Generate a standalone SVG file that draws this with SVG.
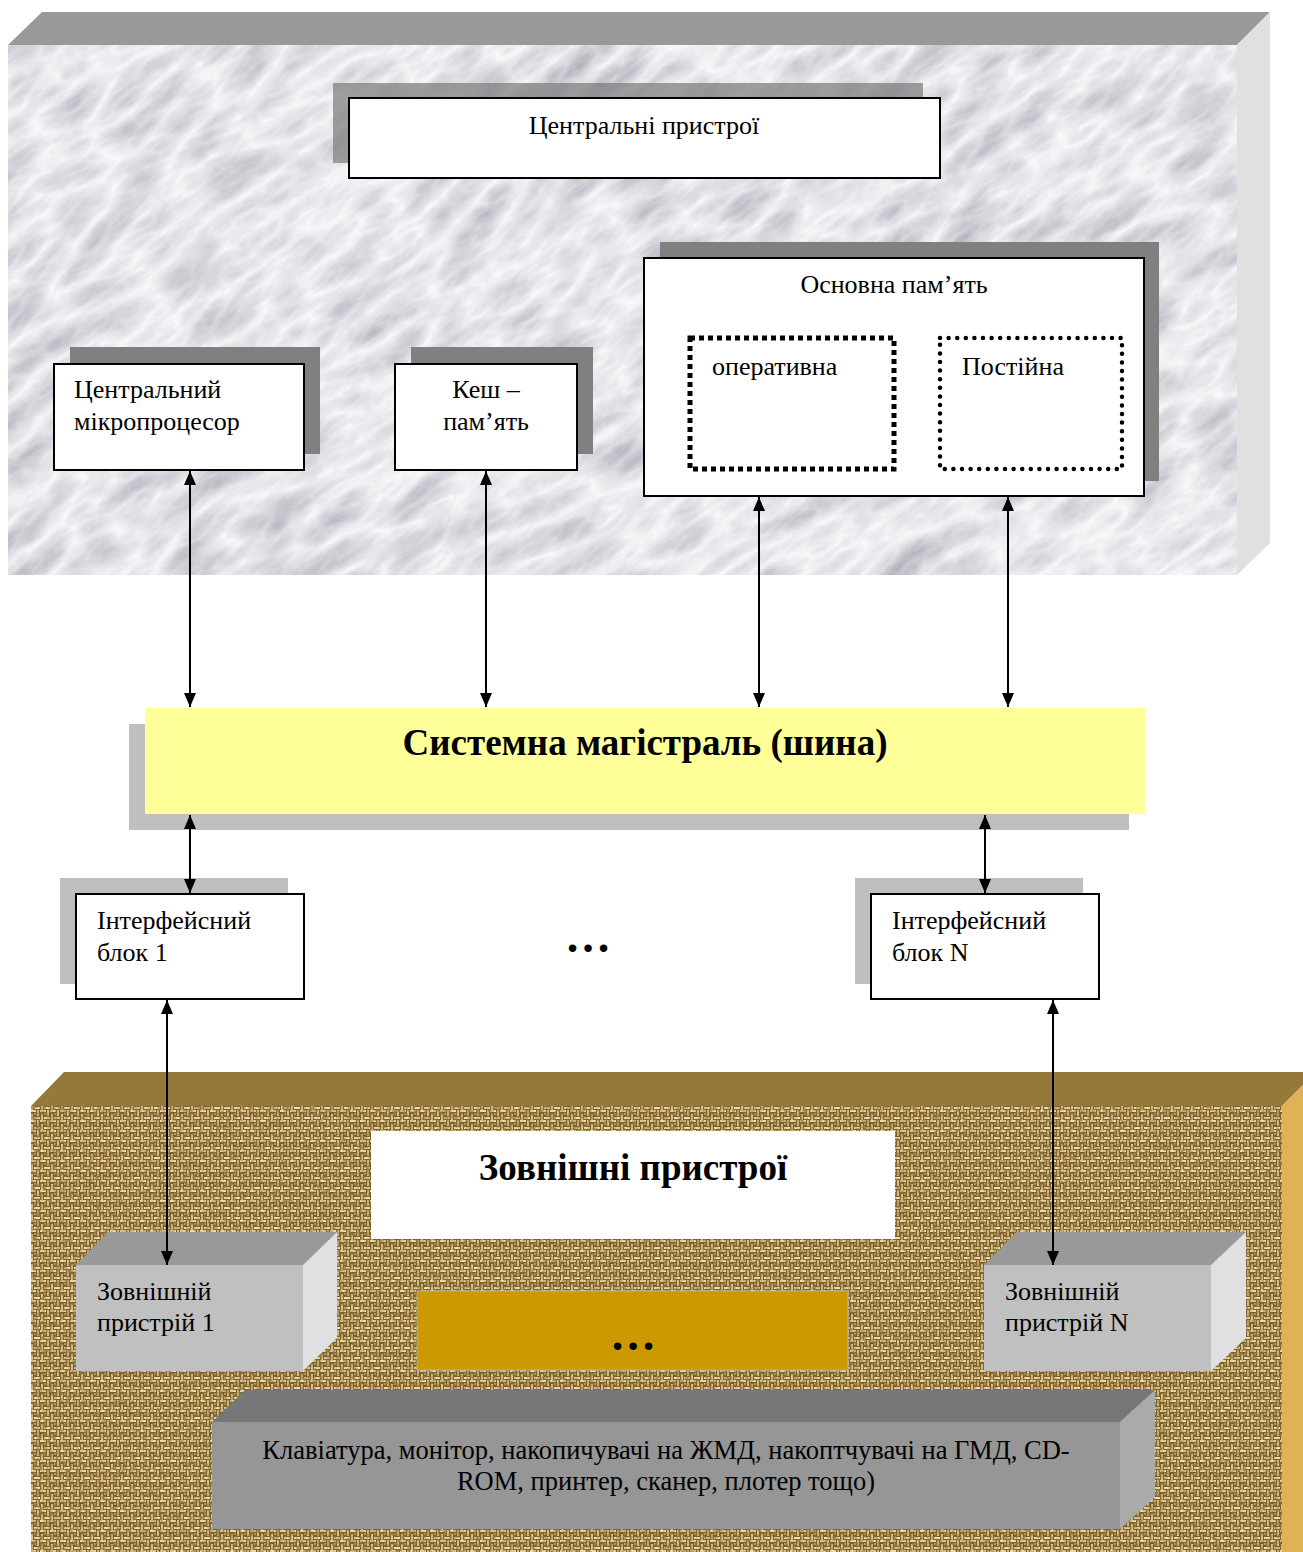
<svg xmlns="http://www.w3.org/2000/svg" width="1303" height="1552" viewBox="0 0 1303 1552">
<style>
text{font-family:"Liberation Serif","Times New Roman",serif;fill:#000}
.t{font-size:26px}
.b{font-size:37px;font-weight:bold}
.d{font-size:46px;font-weight:bold}
.box{fill:#fff;stroke:#000;stroke-width:2}
.sh1{fill:#808080}
.sh2{fill:#bfbfbf}
.conn line{stroke:#000;stroke-width:2;marker-start:url(#ah);marker-end:url(#ah)}
</style>
<defs>
<marker id="ah" viewBox="0 0 14 12" refX="14" refY="6" markerWidth="14" markerHeight="12" markerUnits="userSpaceOnUse" orient="auto-start-reverse">
<path d="M0,0 L14,6 L0,12 Z" fill="#000"/>
</marker>
<filter id="marble" x="0" y="0" width="1" height="1" filterUnits="objectBoundingBox">
<feTurbulence type="turbulence" baseFrequency="0.012 0.03" numOctaves="5" seed="11"/>
<feColorMatrix type="matrix" values="-0.6 0 0 0 0.97  -0.6 0 0 0 0.97  -0.55 0 0 0 0.99  0 0 0 0 1"/>
</filter>
<filter id="mottle" x="0" y="0" width="1" height="1">
<feTurbulence type="fractalNoise" baseFrequency="0.3" numOctaves="2" seed="3"/>
<feColorMatrix type="matrix" values="0 0 0 0 0.3  0 0 0 0 0.2  0 0 0 0 0.05  0 0 0 1.8 -0.6"/>
</filter>
<pattern id="weave" width="10" height="10" patternUnits="userSpaceOnUse">
<rect width="10" height="10" fill="#7a5a28"/>
<rect x="0" y="0" width="6" height="2" fill="#ecdca8"/>
<rect x="7" y="0" width="2" height="6" fill="#d8c088"/>
<rect x="1" y="4" width="2" height="6" fill="#dcc690"/>
<rect x="4" y="7" width="6" height="2" fill="#f2e4b6"/>
<rect x="4" y="3" width="2" height="2" fill="#b89a5c"/>
</pattern>
<clipPath id="marbleClip"><rect x="8" y="45" width="1229" height="530"/></clipPath>
</defs>

<g id="central-area">
<polygon points="8,45 42,12 1270,12 1237,45" fill="#999"/>
<polygon points="1237,45 1270,12 1270,543 1237,575" fill="#e0e0e0"/>
<g clip-path="url(#marbleClip)">
<g transform="rotate(-35 622 310)">
<rect x="-300" y="-400" width="1850" height="1400" fill="#eee" filter="url(#marble)"/>
</g>
</g>
</g>

<g id="external-area">
<polygon points="31,1106 64,1072 1303,1072 1303,1085 1282,1106" fill="#95783a"/>
<polygon points="1282,1106 1303,1085 1303,1552 1282,1552" fill="#ddb356"/>
<rect x="31" y="1106" width="1251" height="446" fill="url(#weave)"/>
<rect x="31" y="1106" width="1251" height="446" filter="url(#mottle)"/>
</g>

<g id="n-central">
<rect class="sh1" x="333" y="83" width="590" height="80" fill-opacity="0.75"/>
<rect class="box" x="349" y="98" width="591" height="80"/>
<text class="t" x="644" y="134" text-anchor="middle">Центральні пристрої</text>
</g>

<g id="n-memory">
<rect class="sh1" x="660" y="242" width="499" height="239"/>
<rect class="box" x="644" y="258" width="500" height="238"/>
<text class="t" x="894" y="293" text-anchor="middle">Основна пам’ять</text>
</g>

<g id="n-ram">
<rect x="690" y="338" width="204" height="131" fill="none" stroke="#000" stroke-width="5" stroke-dasharray="5,4"/>
<text class="t" x="712" y="375">оперативна</text>
</g>

<g id="n-rom">
<rect x="940" y="338" width="182" height="131" fill="none" stroke="#000" stroke-width="4.5" stroke-dasharray="0,8.6" stroke-linecap="round"/>
<text class="t" x="962" y="375">Постійна</text>
</g>

<g id="n-cpu">
<rect class="sh1" x="70" y="347" width="250" height="107"/>
<rect class="box" x="54" y="364" width="250" height="106"/>
<text class="t" x="74" y="398">Центральний</text>
<text class="t" x="74" y="430">мікропроцесор</text>
</g>

<g id="n-cache">
<rect class="sh1" x="411" y="347" width="182" height="107"/>
<rect class="box" x="395" y="364" width="182" height="106"/>
<text class="t" x="486" y="398" text-anchor="middle">Кеш –</text>
<text class="t" x="486" y="430" text-anchor="middle">пам’ять</text>
</g>

<g id="n-bus">
<rect class="sh2" x="129" y="724" width="1000" height="106"/>
<rect x="145" y="708" width="1000" height="106" fill="#ffff99"/>
<text class="b" x="645" y="755" text-anchor="middle">Системна магістраль (шина)</text>
</g>

<g id="n-if1">
<rect class="sh2" x="60" y="878" width="228" height="106"/>
<rect class="box" x="76" y="894" width="228" height="105"/>
<text class="t" x="97" y="929">Інтерфейсний</text>
<text class="t" x="97" y="961">блок 1</text>
</g>

<g id="n-ifN">
<rect class="sh2" x="855" y="878" width="228" height="106"/>
<rect class="box" x="871" y="894" width="228" height="105"/>
<text class="t" x="892" y="929">Інтерфейсний</text>
<text class="t" x="892" y="961">блок N</text>
</g>

<g id="n-dots">
<text class="d" x="588" y="952" text-anchor="middle">…</text>
</g>

<g id="n-ext-title">
<rect x="371" y="1131" width="524" height="108" fill="#fff"/>
<text class="b" x="633" y="1180" text-anchor="middle">Зовнішні пристрої</text>
</g>

<g id="n-ext1">
<polygon points="76,1265 108,1232 337,1232 303,1265" fill="#999"/>
<polygon points="303,1265 337,1232 337,1338 303,1371" fill="#e0e0e0"/>
<rect x="76" y="1265" width="227" height="106" fill="#c0c0c0"/>
<text class="t" x="97" y="1300">Зовнішній</text>
<text class="t" x="97" y="1331">пристрій 1</text>
</g>

<g id="n-extN">
<polygon points="984,1265 1017,1232 1246,1232 1211,1265" fill="#999"/>
<polygon points="1211,1265 1246,1232 1246,1338 1211,1371" fill="#e0e0e0"/>
<rect x="984" y="1265" width="227" height="106" fill="#c0c0c0"/>
<text class="t" x="1005" y="1300">Зовнішній</text>
<text class="t" x="1005" y="1331">пристрій N</text>
</g>

<g id="n-ext-dots">
<rect x="417" y="1291" width="431" height="79" fill="#cc9900" stroke="#b0b0b0" stroke-width="1"/>
<text class="d" x="633" y="1350" text-anchor="middle">…</text>
</g>

<g id="n-list">
<polygon points="212,1422 245,1390 1155,1390 1120,1422" fill="#777"/>
<polygon points="1120,1422 1155,1390 1155,1497 1120,1529" fill="#aaa"/>
<rect x="212" y="1422" width="908" height="107" fill="#969696"/>
<text class="t" x="666" y="1459" text-anchor="middle" style="font-size:26.5px">Клавіатура, монітор, накопичувачі на ЖМД, накоптчувачі на ГМД, CD-</text>
<text class="t" x="666" y="1490" text-anchor="middle" style="font-size:26.5px">ROM, принтер, сканер, плотер тощо)</text>
</g>

<g id="connectors" class="conn">
<line x1="190" y1="471" x2="190" y2="707"/>
<line x1="486" y1="471" x2="486" y2="707"/>
<line x1="759" y1="497" x2="759" y2="707"/>
<line x1="1008" y1="497" x2="1008" y2="707"/>
<line x1="190" y1="815" x2="190" y2="893"/>
<line x1="985" y1="815" x2="985" y2="893"/>
<line x1="167" y1="1000" x2="167" y2="1265"/>
<line x1="1053" y1="1000" x2="1053" y2="1265"/>
</g>
</svg>
